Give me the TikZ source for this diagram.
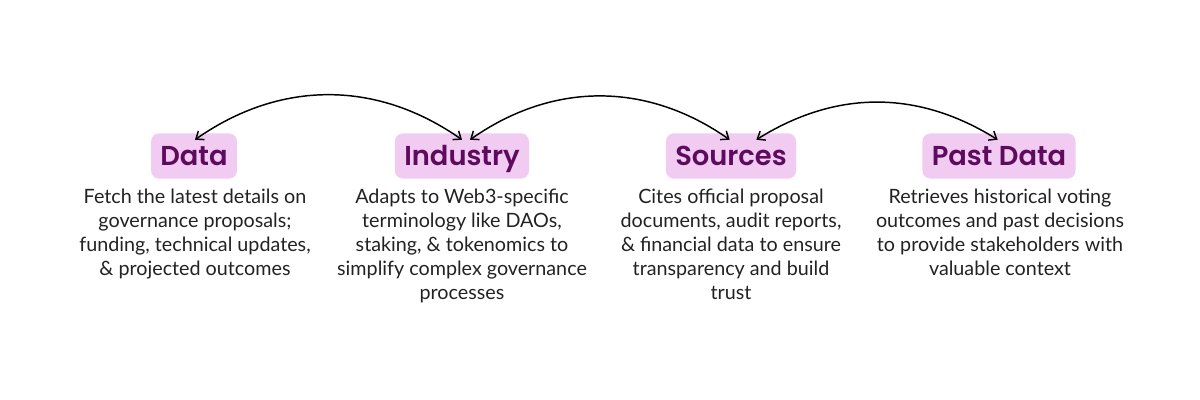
\documentclass[tikz,border=0pt]{standalone}
\usepackage{fontspec}
\setmainfont{Lato}
\newfontfamily\headfont{Poppins}[UprightFont=* SemiBold,BoldFont=* Bold]
\usetikzlibrary{arrows.meta}
\definecolor{boxpink}{HTML}{F1CBF1}
\definecolor{headpurple}{HTML}{5E0B5E}
\definecolor{bodygray}{HTML}{222222}
\tikzset{
  headbox/.style={
    fill=boxpink,
    text=headpurple,
    rounded corners=6pt,
    inner xsep=7pt,
    text height=17pt,
    text depth=3.5pt,
    minimum height=34pt,
    font=\headfont\fontsize{20.5}{24}\selectfont
  },
  desc/.style={
    align=center,
    text=bodygray,
    anchor=north,
    inner sep=0pt,
    font=\fontsize{14.8}{18}\selectfont
  },
  link/.style={
    {Straight Barb[length=5pt,width=8pt]}-{Straight Barb[length=5pt,width=8pt]},
    line width=1.1pt
  }
}

\begin{document}
\begin{tikzpicture}[x=0.75pt,y=-0.75pt]
        \useasboundingbox (0,0) rectangle (1200,400);
        \node[headbox] (data) at (194,156) {Data};
        \node[headbox] (industry) at (462,156) {Industry};
        \node[headbox] (sources) at (731,156) {Sources};
        \node[headbox] (past) at (999,156) {Past Data};
        \node[desc] (datatxt) at (195,189) {Fetch the latest details on\\governance proposals;\\funding, technical updates,\\\& projected outcomes};
        \node[desc] (industrytxt) at (462,189) {Adapts to Web3-specific\\terminology like DAOs,\\staking, \& tokenomics to\\simplify complex governance\\processes};
        \node[desc] (sourcestxt) at (731,189) {Cites official proposal\\documents, audit reports,\\\& financial data to ensure\\transparency and build\\trust};
        \node[desc] (pasttxt) at (1000,189) {Retrieves historical voting\\outcomes and past decisions\\to provide stakeholders with\\valuable context};
        % arcs between the headings
        \draw[link] ([xshift=0.75pt,yshift=-5pt]data.north) to[bend left=35] ([xshift=0pt,yshift=-5pt]industry.north);
        \draw[link] ([xshift=6pt,yshift=-5pt]industry.north) to[bend left=35] ([xshift=-1pt,yshift=-5pt]sources.north);
        \draw[link] ([xshift=19pt,yshift=-5pt]sources.north) to[bend left=32] ([xshift=-1pt,yshift=-5pt]past.north);
    \end{tikzpicture}
\end{document}
